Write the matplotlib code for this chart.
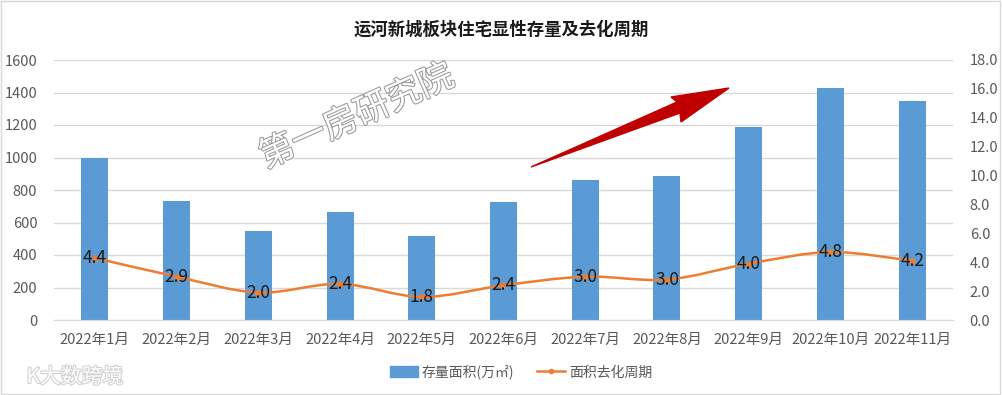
import matplotlib
matplotlib.use('Agg')
from matplotlib import pyplot as plt
from matplotlib.path import Path
from matplotlib.patches import PathPatch, Polygon, Rectangle
import matplotlib.patheffects as pe
import numpy as np

plt.rcParams['font.family'] = ['Noto Sans CJK SC', 'DejaVu Sans']

months = ['2022年1月', '2022年2月', '2022年3月', '2022年4月', '2022年5月', '2022年6月',
          '2022年7月', '2022年8月', '2022年9月', '2022年10月', '2022年11月']
stock_area = [1000, 732, 548, 665, 517, 726, 862, 886, 1188, 1428, 1348]
cycle = [4.4, 2.9, 2.0, 2.4, 1.8, 2.4, 3.0, 3.0, 4.0, 4.8, 4.2]
cycle_pos = [4.3, 3.0, 1.9, 2.5, 1.6, 2.4, 3.0, 2.8, 3.9, 4.7, 4.1]

bar_color = '#5b9bd5'
line_color = '#ed7d31'
tick_color = '#595959'

fig = plt.figure(figsize=(10.02, 3.95), dpi=100)
ax = fig.add_axes([54 / 1002, 1 - 320 / 395, (953 - 54) / 1002, 260 / 395])
ax2 = ax.twinx()

x = np.arange(len(months))
ax.bar(x, stock_area, width=0.33, color=bar_color, zorder=2, label='存量面积(万㎡)')
ax.set_xlim(-0.5, len(months) - 0.5)
ax.set_ylim(0, 1600)
ax.set_yticks(range(0, 1601, 200))
ax.grid(axis='y', color='#d9d9d9', linewidth=1, zorder=0)
ax.set_axisbelow(True)
ax.set_xticks(x)
ax.set_xticklabels(months)

# smoothed line (Catmull-Rom -> cubic bezier)
pts = np.column_stack([x, cycle_pos]).astype(float)
verts = [tuple(pts[0])]
codes = [Path.MOVETO]
for i in range(len(pts) - 1):
    p0 = pts[i - 1] if i > 0 else pts[i]
    p1 = pts[i]
    p2 = pts[i + 1]
    p3 = pts[i + 2] if i + 2 < len(pts) else pts[i + 1]
    c1 = p1 + (p2 - p0) / 6
    c2 = p2 - (p3 - p1) / 6
    verts += [tuple(c1), tuple(c2), tuple(p2)]
    codes += [Path.CURVE4] * 3
ax2.add_patch(PathPatch(Path(verts, codes), facecolor='none', edgecolor=line_color, linewidth=1.8, zorder=3))
ax2.plot(x, cycle_pos, 'o', color=line_color, markersize=3.5, zorder=4)
for xi, yi, v in zip(x, cycle_pos, cycle):
    ax2.text(xi, yi, f'{v:.1f}', ha='center', va='center', fontsize=12.5, color='#1a1a1a', zorder=5)
ax2.set_ylim(0, 18)
ax2.set_yticks(np.arange(0, 18.1, 2))
ax2.set_yticklabels([f'{v:.1f}' for v in np.arange(0, 18.1, 2)])

for a in (ax, ax2):
    for s in a.spines.values():
        s.set_visible(False)
    a.tick_params(length=0, labelsize=10.5, colors=tick_color)
ax.tick_params(axis='y', pad=12)
ax.tick_params(axis='x', pad=9)
ax2.tick_params(axis='y', pad=12)
ax.spines['bottom'].set_visible(True)
ax.spines['bottom'].set_color('#d9d9d9')

fig.text(0.5, 1 - 30 / 395, '运河新城板块住宅显性存量及去化周期', ha='center', va='center',
         fontsize=12.5, fontweight='bold', color='#1a1a1a')

# legend
lh_bar = Rectangle((0, 0), 1, 1, color=bar_color)
lh_line, = plt.plot([], [], '-o', color=line_color, markersize=3, linewidth=1.8)
fig.legend([lh_bar, lh_line], ['存量面积(万㎡)', '面积去化周期'], loc='center',
           bbox_to_anchor=(0.52, 1 - 372 / 395), ncol=2, frameon=False, fontsize=10,
           labelcolor=tick_color, handlelength=2.0, handleheight=0.8, columnspacing=1.6,
           handletextpad=0.3)

# red arrow
arrow_px = [(531, 167), (677, 102), (671, 97), (729, 88), (681, 122), (680, 113)]
arrow = Polygon([(px / 1002, 1 - py / 395) for px, py in arrow_px], closed=True,
                transform=fig.transFigure, facecolor='#c00000', edgecolor='#c00000', zorder=10)
fig.patches.append(arrow)

# watermarks
fig.text(357 / 1002, 1 - 117 / 395, '第一房研究院', ha='center', va='center', rotation=24,
         fontsize=25, color='white', alpha=1,
         path_effects=[pe.withStroke(linewidth=1.5, foreground='#9a9a9a')])
fig.text(75 / 1002, 1 - 377 / 395, 'K大数跨境', ha='center', va='center', fontsize=15,
         color='white', path_effects=[pe.withStroke(linewidth=1.5, foreground='#d0d0d0')])

fig.patches.append(Rectangle((0.001, 0.002), 0.997, 0.995, transform=fig.transFigure,
                             fill=False, edgecolor='#d9d9d9', linewidth=1))

fig.savefig('out.png', dpi=100)
